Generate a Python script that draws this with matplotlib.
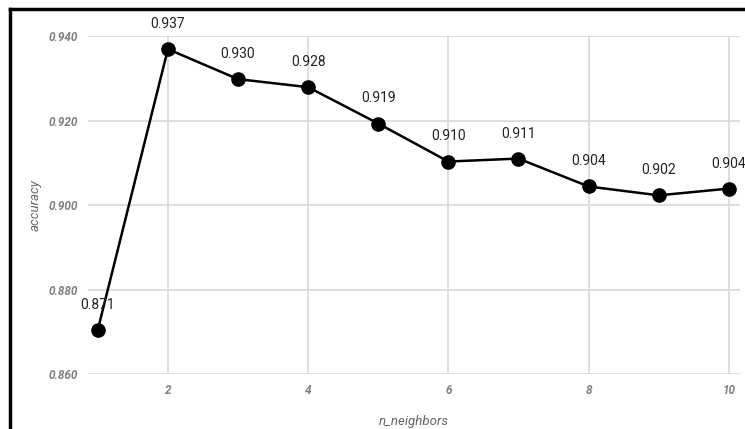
import matplotlib.pyplot as plt
from matplotlib.lines import Line2D

n_neighbors = [1, 2, 3, 4, 5, 6, 7, 8, 9, 10]
accuracy = [0.8705, 0.9369, 0.9298, 0.9279, 0.9193, 0.9103, 0.9110, 0.9044, 0.9023, 0.9039]
labels = ["0.871", "0.937", "0.930", "0.928", "0.919", "0.910", "0.911", "0.904", "0.902", "0.904"]
x_ticks = [2, 4, 6, 8, 10]
y_ticks = [0.860, 0.880, 0.900, 0.920, 0.940]

plt.rcParams["font.family"] = ["Roboto", "DejaVu Sans"]

fig = plt.figure(figsize=(7.45, 4.29), dpi=100)
ax = fig.add_axes([0.118, 0.128, 0.875, 0.788])

ax.plot(n_neighbors, accuracy, color="black", linewidth=1.8, marker="o",
        markersize=9.5, zorder=3)
for x, y, s in zip(n_neighbors, accuracy, labels):
    ax.annotate(s, (x, y), xytext=(0, 13), textcoords="offset points",
                ha="center", va="bottom", fontsize=10, color="#222222",
                annotation_clip=False)

ax.set_xlim(0.859, 10.157)
ax.set_ylim(0.86, 0.94)
ax.set_xticks(x_ticks)
ax.set_yticks(y_ticks)
ax.set_yticklabels([f"{v:.3f}" for v in y_ticks])
ax.grid(True, color="#d9d9d9", linewidth=1.2)
ax.set_axisbelow(True)
for side in ax.spines.values():
    side.set_visible(False)
ax.tick_params(length=0, pad=7, labelsize=8.5, labelcolor="#808080")
for t in ax.get_xticklabels() + ax.get_yticklabels():
    t.set_fontstyle("italic")
    t.set_fontweight("bold")

ax.set_xlabel("n_neighbors", fontsize=9.5, color="#666666", style="italic", labelpad=13)
ax.set_ylabel("accuracy", fontsize=9.5, color="#666666", style="italic", labelpad=5)

# frame on left and top edges
fig.add_artist(Line2D([10 / 745, 10 / 745], [0, 1 - 9 / 429], color="black",
                      linewidth=2.5, transform=fig.transFigure))
fig.add_artist(Line2D([10 / 745, 1], [1 - 9 / 429, 1 - 9 / 429], color="black",
                      linewidth=2.5, transform=fig.transFigure))

fig.savefig("out.png", dpi=100)
